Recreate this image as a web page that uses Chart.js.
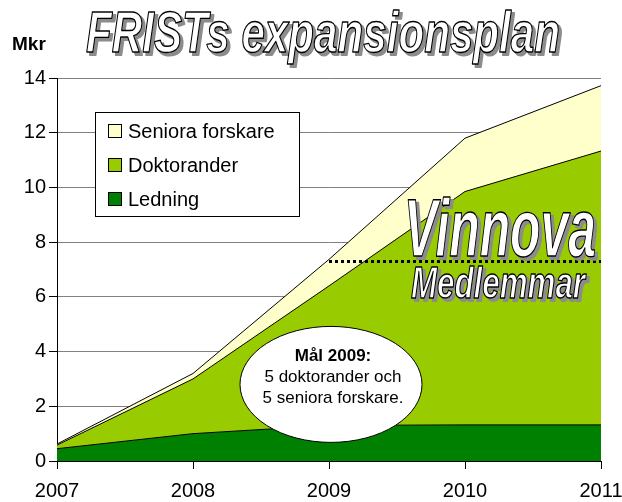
<!DOCTYPE html>
<html>
<head>
<meta charset="utf-8">
<script src="https://cdn.jsdelivr.net/npm/chart.js@4/dist/chart.umd.min.js"></script>
<style>
html,body{margin:0;padding:0;background:#fff;}
#wrap{width:622px;height:502px;position:relative;}
</style>
</head>
<body>
<div id="wrap"><canvas id="c" width="622" height="502"></canvas></div>
<script>
// ---- data ----
const years = ['2007', '2008', '2009', '2010', '2011'];
const ledning = [0.45, 1.0, 1.3, 1.32, 1.32];
const doktorander = [0.13, 2.0, 5.1, 8.53, 10.01];
const senioraForskare = [0.04, 0.2, 0.97, 1.95, 2.39];
const yTickValues = [0, 2, 4, 6, 8, 10, 12, 14];
const seriesNames = ['Ledning', 'Doktorander', 'Seniora forskare'];
const seriesColors = ['#008000', '#99CC00', '#FFFFCC'];
const titleText = 'FRISTs expansionsplan';
const unitText = 'Mkr';
const goalLevel = 7.3;
const goalFromIndex = 2;
const goalToIndex = 4;
const noteLines = ['Mål 2009:', '5 doktorander och', '5 seniora forskare.'];
const bigLabel1 = 'Vinnova';
const bigLabel2 = 'Medlemmar';

const FONT = '"Liberation Sans", Arial, sans-serif';

function outlinedText(ctx, text, x, y, size, targetW) {
  ctx.save();
  ctx.font = 'italic bold ' + size + 'px ' + FONT;
  const w = ctx.measureText(text).width;
  const sx = targetW / w;
  ctx.translate(x, y);
  ctx.scale(sx, 1);
  ctx.textAlign = 'left';
  ctx.textBaseline = 'alphabetic';
  ctx.lineJoin = 'round';
  // shadow
  ctx.fillStyle = '#8c8c8c';
  ctx.strokeStyle = '#8c8c8c';
  ctx.lineWidth = 2;
  ctx.fillText(text, 3 / sx, 3);
  ctx.strokeText(text, 3 / sx, 3);
  // main
  ctx.fillStyle = '#ffffff';
  ctx.fillText(text, 0, 0);
  ctx.strokeStyle = '#000000';
  ctx.lineWidth = 1.4;
  ctx.strokeText(text, 0, 0);
  ctx.restore();
}

const decorations = {
  id: 'decorations',
  afterDatasetsDraw(chart) {
    const ctx = chart.ctx;
    const xs = chart.scales.x, ys = chart.scales.y;
    // dotted goal line
    ctx.save();
    ctx.strokeStyle = '#000';
    ctx.lineWidth = 3;
    ctx.setLineDash([3, 3]);
    const gy = Math.round(ys.getPixelForValue(goalLevel)) + 0.5;
    ctx.beginPath();
    ctx.moveTo(xs.getPixelForValue(goalFromIndex), gy);
    ctx.lineTo(xs.getPixelForValue(goalToIndex), gy);
    ctx.stroke();
    ctx.restore();

    // big labels
    outlinedText(ctx, bigLabel1, 404, 256, 82, 192);
    outlinedText(ctx, bigLabel2, 411, 298, 44, 174);

    // ellipse note
    const cx = xs.getPixelForValue(goalFromIndex) + 2;
    const cy = ys.getPixelForValue(2.8);
    ctx.save();
    ctx.beginPath();
    ctx.ellipse(cx, cy, 91, 58, 0, 0, Math.PI * 2);
    ctx.fillStyle = '#ffffff';
    ctx.fill();
    ctx.strokeStyle = '#000';
    ctx.lineWidth = 1;
    ctx.stroke();
    ctx.fillStyle = '#000';
    ctx.textAlign = 'center';
    ctx.textBaseline = 'alphabetic';
    ctx.font = 'bold 17px ' + FONT;
    ctx.fillText(noteLines[0], cx + 2, cy - 23);
    ctx.font = '17px ' + FONT;
    ctx.fillText(noteLines[1], cx + 2, cy - 2);
    ctx.fillText(noteLines[2], cx + 2, cy + 19);
    ctx.restore();

    // legend box
    ctx.save();
    ctx.fillStyle = '#fff';
    ctx.fillRect(95.5, 112.5, 204, 104);
    ctx.strokeStyle = '#000';
    ctx.lineWidth = 1;
    ctx.strokeRect(95.5, 112.5, 204, 104);
    const ds = chart.data.datasets;
    ctx.font = '20px ' + FONT;
    ctx.textBaseline = 'alphabetic';
    ctx.textAlign = 'left';
    for (let i = 0; i < ds.length; i++) {
      const d = ds[ds.length - 1 - i];
      const rowY = 124 + i * 34;
      ctx.fillStyle = d.backgroundColor;
      ctx.fillRect(108.5, rowY + 0.5, 13, 13);
      ctx.strokeStyle = '#000';
      ctx.strokeRect(108.5, rowY + 0.5, 13, 13);
      ctx.fillStyle = '#000';
      ctx.fillText(d.label, 128, rowY + 14);
    }
    ctx.restore();
  },
  afterDraw(chart) {
    const ctx = chart.ctx;
    outlinedText(ctx, titleText, 86, 52, 58, 474);
    ctx.save();
    ctx.fillStyle = '#000';
    ctx.font = 'bold 19px ' + FONT;
    ctx.textBaseline = 'alphabetic';
    ctx.fillText(unitText, 12, 50);
    ctx.restore();
  }
};

const datasets = [ledning, doktorander, senioraForskare].map((vals, i) => ({
  label: seriesNames[i],
  data: vals,
  backgroundColor: seriesColors[i],
  borderColor: '#000',
  borderWidth: 1,
  fill: i === 0 ? 'origin' : '-1',
  pointRadius: 0,
  tension: 0
}));

new Chart(document.getElementById('c'), {
  type: 'line',
  data: { labels: years, datasets },
  options: {
    responsive: false,
    animation: false,
    layout: { padding: { top: 78, right: 21, left: 0, bottom: 0 } },
    plugins: { legend: { display: false }, tooltip: { enabled: false }, title: { display: false } },
    scales: {
      x: {
        offset: false,
        grid: { drawOnChartArea: false, drawTicks: true, tickLength: 8, color: '#000', tickColor: '#000' },
        border: { color: '#000', width: 1 },
        ticks: { color: '#000', font: { family: FONT, size: 20 }, maxRotation: 0, autoSkip: false, padding: 10 },
        afterFit(s) { s.height = 41; s.paddingLeft = 0; s.paddingRight = 0; }
      },
      y: {
        stacked: true,
        min: 0, max: 14,
        afterBuildTicks(s) { s.ticks = yTickValues.map(v => ({ value: v })); },
        grid: { color: '#808080', tickColor: '#000', tickLength: 8, lineWidth: 1 },
        border: { color: '#000', width: 1 },
        ticks: { color: '#000', font: { family: FONT, size: 20 }, padding: 3 },
        afterFit(s) { s.width = 57; s.paddingTop = 0; s.paddingBottom = 0; }
      }
    }
  },
  plugins: [decorations]
});
</script>
</body>
</html>
